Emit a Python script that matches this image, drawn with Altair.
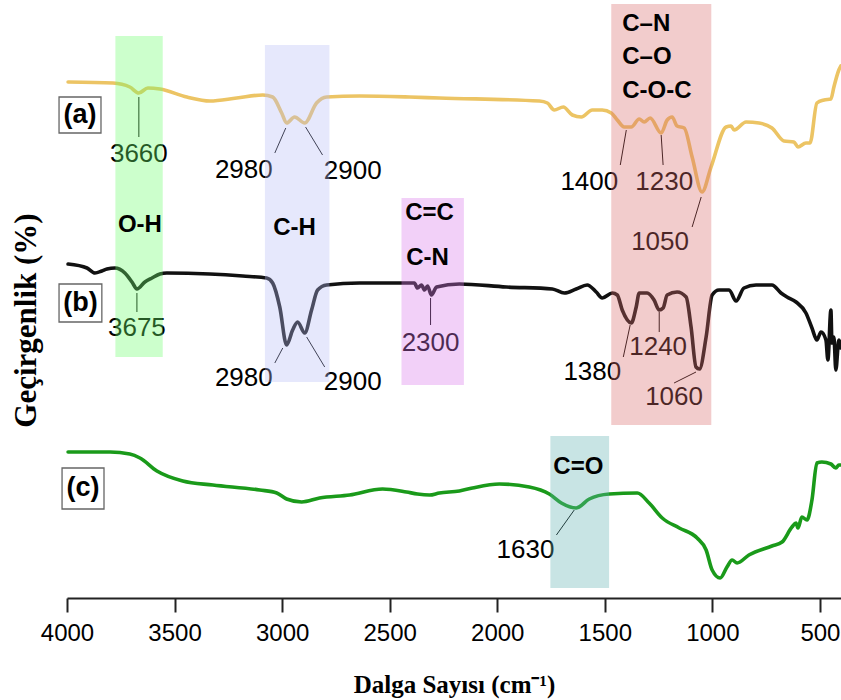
import altair as alt
import pandas as pd

# ---------------- spectra (wavenumber cm-1, transmittance arbitrary units) -------------
a_wn = [3995, 3786, 3708, 3666, 3624, 3568, 3443, 3336, 3211, 3090, 3044, 3002, 2979, 2942,
        2895, 2840, 2793, 2640, 2408, 2269, 1804, 1767, 1735, 1693, 1651, 1609, 1558, 1512,
        1470, 1442, 1410, 1377, 1340, 1317, 1289, 1238, 1210, 1187, 1164, 1131, 1094, 1048,
        1006, 936, 913, 899, 843, 783, 723, 667, 621, 602, 565, 546, 514, 481, 449, 435, 412, 403]
a_t = [516, 515, 511, 505, 510, 509, 501, 497, 500, 503, 501, 485, 475, 481,
       475, 495, 501, 502, 501, 500, 497, 495, 488, 491, 483, 481, 488, 488,
       485, 478, 471, 471, 479, 476, 480, 465, 478, 481, 472, 470, 441, 406,
       431, 471, 472, 468, 476, 475, 470, 457, 456, 451, 455, 455, 495, 498, 499, 511, 528, 532]

b_wn = [3995, 3907, 3870, 3838, 3814, 3777, 3731, 3698, 3675, 3638, 3605, 3568, 3536, 3336,
        3183, 3072, 3044, 3011, 2979, 2951, 2928, 2895, 2863, 2835, 2793, 2640, 2440, 2385,
        2371, 2352, 2338, 2324, 2306, 2282, 2176, 1958, 1744, 1688, 1633, 1582, 1540, 1512,
        1465, 1442, 1419, 1377, 1354, 1340, 1303, 1271, 1247, 1229, 1210, 1164, 1122, 1099,
        1076, 1060, 1029, 1001, 969, 922, 890, 853, 797, 723, 681, 653, 611, 565, 537, 514,
        495, 472, 463, 449, 444, 435, 426, 412, 403]
b_t = [334, 330, 325, 327, 329, 330, 325, 316, 309, 316, 320, 324, 325, 324,
       322, 320, 315, 291, 253, 268, 276, 265, 288, 308, 313, 315, 315, 315,
       310, 313, 308, 312, 303, 311, 314, 311, 309, 305, 309, 313, 306, 300,
       305, 303, 288, 275, 291, 305, 305, 298, 288, 290, 303, 306, 301, 271,
       231, 229, 261, 303, 308, 308, 297, 310, 313, 313, 305, 301, 296, 285, 270, 258,
       266, 258, 238, 288, 255, 261, 228, 258, 250]

c_wn = [3995, 3800, 3708, 3661, 3582, 3462, 3322, 3104, 3025, 2979, 2909, 2826, 2686, 2533,
        2422, 2371, 2315, 2269, 2176, 2115, 1990, 1851, 1758, 1702, 1633, 1572, 1479, 1349,
        1294, 1233, 1154, 1071, 1029, 1001, 964, 932, 908, 885, 830, 723, 676, 630, 611,
        602, 584, 560, 537, 514, 491, 449, 426, 412, 403]
c_t = [146, 146, 144, 140, 127, 117, 113, 108, 105, 99, 96, 100, 103, 109,
       106, 104, 103, 105, 107, 110, 114, 111, 104, 95, 90, 99, 104, 105,
       95, 80, 70, 60, 48, 28, 20, 31, 38, 35, 43, 52, 56, 71, 75,
       70, 81, 78, 98, 135, 136, 134, 130, 133, 133]

series_names = ["a", "b", "c"]
series_colors = ["#ecc464", "#111111", "#1a9a1a"]

# ---------------- shaded bands ----------------
band_lo = [3775, 3080, 2445, 1470, 1753]
band_hi = [3555, 2780, 2155, 1005, 1480]
band_bot = [241, 216, 213, 173, 10]
band_top = [562, 553, 400, 594, 162]
band_color = ["#6dff6d", "#b8bdf6", "#da79eb", "#da6d6d", "#62b2b2"]

# band labels
grp_text = ["O-H", "C-H", "C=C", "C-N", "C=O"]
grp_wn = [3661, 2942, 2315, 2324, 1623]
grp_t = [373, 370, 385, 340, 131]
grp2_text = ["C\u2013N", "C\u2013O", "C-O-C"]
grp2_wn = [1419, 1419, 1419]
grp2_t = [574, 541, 507]

# ---------------- peak annotations ----------------
pk_text = ["3660", "2980", "2900", "1400", "1230", "1050",
           "3675", "2980", "2900", "2300", "1380", "1240", "1060", "1630"]
pk_wn = [3666, 3178, 2672, 1572, 1224, 1243,
         3675, 3178, 2672, 2310, 1558, 1252, 1178, 1869]
pk_t = [444, 428, 427, 416, 416, 356,
        270, 220, 216, 255, 226, 251, 201, 48]
ld_x1 = [3666, 2983, 2891, 1400, 1238, 1052,
         3675, 2997, 2886, 2310, 1382, 1247, 1076, 1642]
ld_x2 = [3666, 3034, 2812, 1428, 1229, 1094,
         3675, 3034, 2802, 2310, 1414, 1247, 1178, 1725]
ld_y1 = [501, 470, 471, 468, 463, 401,
         305, 250, 261, 300, 273, 286, 226, 88]
ld_y2 = [461, 445, 443, 433, 433, 371,
         286, 235, 231, 273, 241, 266, 215, 63]

# ---------------- sample tags ----------------
tag_text = ["(a)", "(b)", "(c)"]
tag_x1 = [4037, 4037, 4023]
tag_x2 = [3842, 3838, 3828]
tag_y1 = [501, 314, 130]
tag_y2 = [465, 276, 89]
tag_cx = [3940, 3937, 3926]
tag_cy = [483, 295, 110]

x_ticks = [4000, 3500, 3000, 2500, 2000, 1500, 1000, 500]

# ---------------- build tables ----------------
rows = []
for name, wn, t in [("a", a_wn, a_t), ("b", b_wn, b_t), ("c", c_wn, c_t)]:
    for w, v in zip(wn, t):
        rows.append({"series": name, "wn": w, "t": v})
spec = pd.DataFrame(rows)
bands = pd.DataFrame({"lo": band_lo, "hi": band_hi, "bot": band_bot, "top": band_top, "col": band_color})
grp = pd.DataFrame({"text": grp_text, "wn": grp_wn, "t": grp_t})
grp2 = pd.DataFrame({"text": grp2_text, "wn": grp2_wn, "t": grp2_t})
pk = pd.DataFrame({"text": pk_text, "wn": pk_wn, "t": pk_t})
ld = pd.DataFrame({"x1": ld_x1, "x2": ld_x2, "y1": ld_y1, "y2": ld_y2})
tags = pd.DataFrame({"text": tag_text, "x1": tag_x1, "x2": tag_x2, "y1": tag_y1, "y2": tag_y2,
                     "cx": tag_cx, "cy": tag_cy})

xs = alt.Scale(domain=[4000, 402], nice=False, zero=False)
ys = alt.Scale(domain=[0, 598], nice=False, zero=False)

x_axis = alt.Axis(values=x_ticks, grid=False, title="Dalga Sayısı (cm\u207b\u00b9)",
                  labelFont="Liberation Sans", labelFontSize=24, labelFlush=False,
                  labelColor="#000", labelPadding=9, tickSize=14, tickWidth=2, tickColor="#222",
                  domainWidth=2, domainColor="#222", titleFont="Liberation Serif",
                  titleFontSize=25, titleFontWeight="bold", titleColor="#000", titlePadding=27,
                  format="d")
y_axis = alt.Axis(grid=False, domain=False, ticks=False, labels=False, title="Geçirgenlik (%)",
                  titleFont="Liberation Serif", titleFontSize=31, titleFontWeight="bold",
                  titleColor="#000", titleX=-25, titleY=320, titleAngle=-90, titleBaseline="bottom")

lines = alt.Chart(spec).mark_line(interpolate="monotone", strokeWidth=3.6, strokeCap="round",
                                  strokeJoin="round").encode(
    x=alt.X("wn:Q", scale=xs, axis=x_axis),
    y=alt.Y("t:Q", scale=ys, axis=y_axis),
    color=alt.Color("series:N", scale=alt.Scale(domain=series_names, range=series_colors), legend=None),
)

leaders = alt.Chart(ld).mark_rule(color="#000", strokeWidth=1).encode(
    x=alt.X("x1:Q", scale=xs), x2="x2:Q", y=alt.Y("y1:Q", scale=ys), y2="y2:Q")

pk_labels = alt.Chart(pk).mark_text(font="Liberation Sans", fontSize=26, color="#000",
                                    align="center", baseline="middle").encode(
    x=alt.X("wn:Q", scale=xs), y=alt.Y("t:Q", scale=ys), text="text:N")

band_rects = alt.Chart(bands).mark_rect(opacity=0.35).encode(
    x=alt.X("lo:Q", scale=xs), x2="hi:Q", y=alt.Y("bot:Q", scale=ys), y2="top:Q",
    color=alt.Color("col:N", scale=None))

grp_labels = alt.Chart(grp).mark_text(font="Liberation Sans", fontSize=24, fontWeight="bold",
                                      color="#000", align="center", baseline="middle").encode(
    x=alt.X("wn:Q", scale=xs), y=alt.Y("t:Q", scale=ys), text="text:N")

grp2_labels = alt.Chart(grp2).mark_text(font="Liberation Sans", fontSize=24, fontWeight="bold",
                                        color="#000", align="left", baseline="middle").encode(
    x=alt.X("wn:Q", scale=xs), y=alt.Y("t:Q", scale=ys), text="text:N")

tag_boxes = alt.Chart(tags).mark_rect(fill="#fff", stroke="#666", strokeWidth=1.3).encode(
    x=alt.X("x1:Q", scale=xs), x2="x2:Q", y=alt.Y("y1:Q", scale=ys), y2="y2:Q")

tag_labels = alt.Chart(tags).mark_text(font="Liberation Sans", fontSize=27, fontWeight="bold",
                                       color="#000", align="center", baseline="middle").encode(
    x=alt.X("cx:Q", scale=xs), y=alt.Y("cy:Q", scale=ys), text="text:N")

chart = alt.layer(lines, leaders, pk_labels, band_rects, grp_labels, grp2_labels,
                  tag_boxes, tag_labels).properties(
    width=774, height=598,
    padding={"left": 67, "top": 0, "right": 0, "bottom": 102},
    autosize=alt.AutoSizeParams(type="none"),
    background="#ffffff",
).configure_view(stroke=None)

chart.save("out.html", embed_options={"renderer": "svg", "actions": False})
